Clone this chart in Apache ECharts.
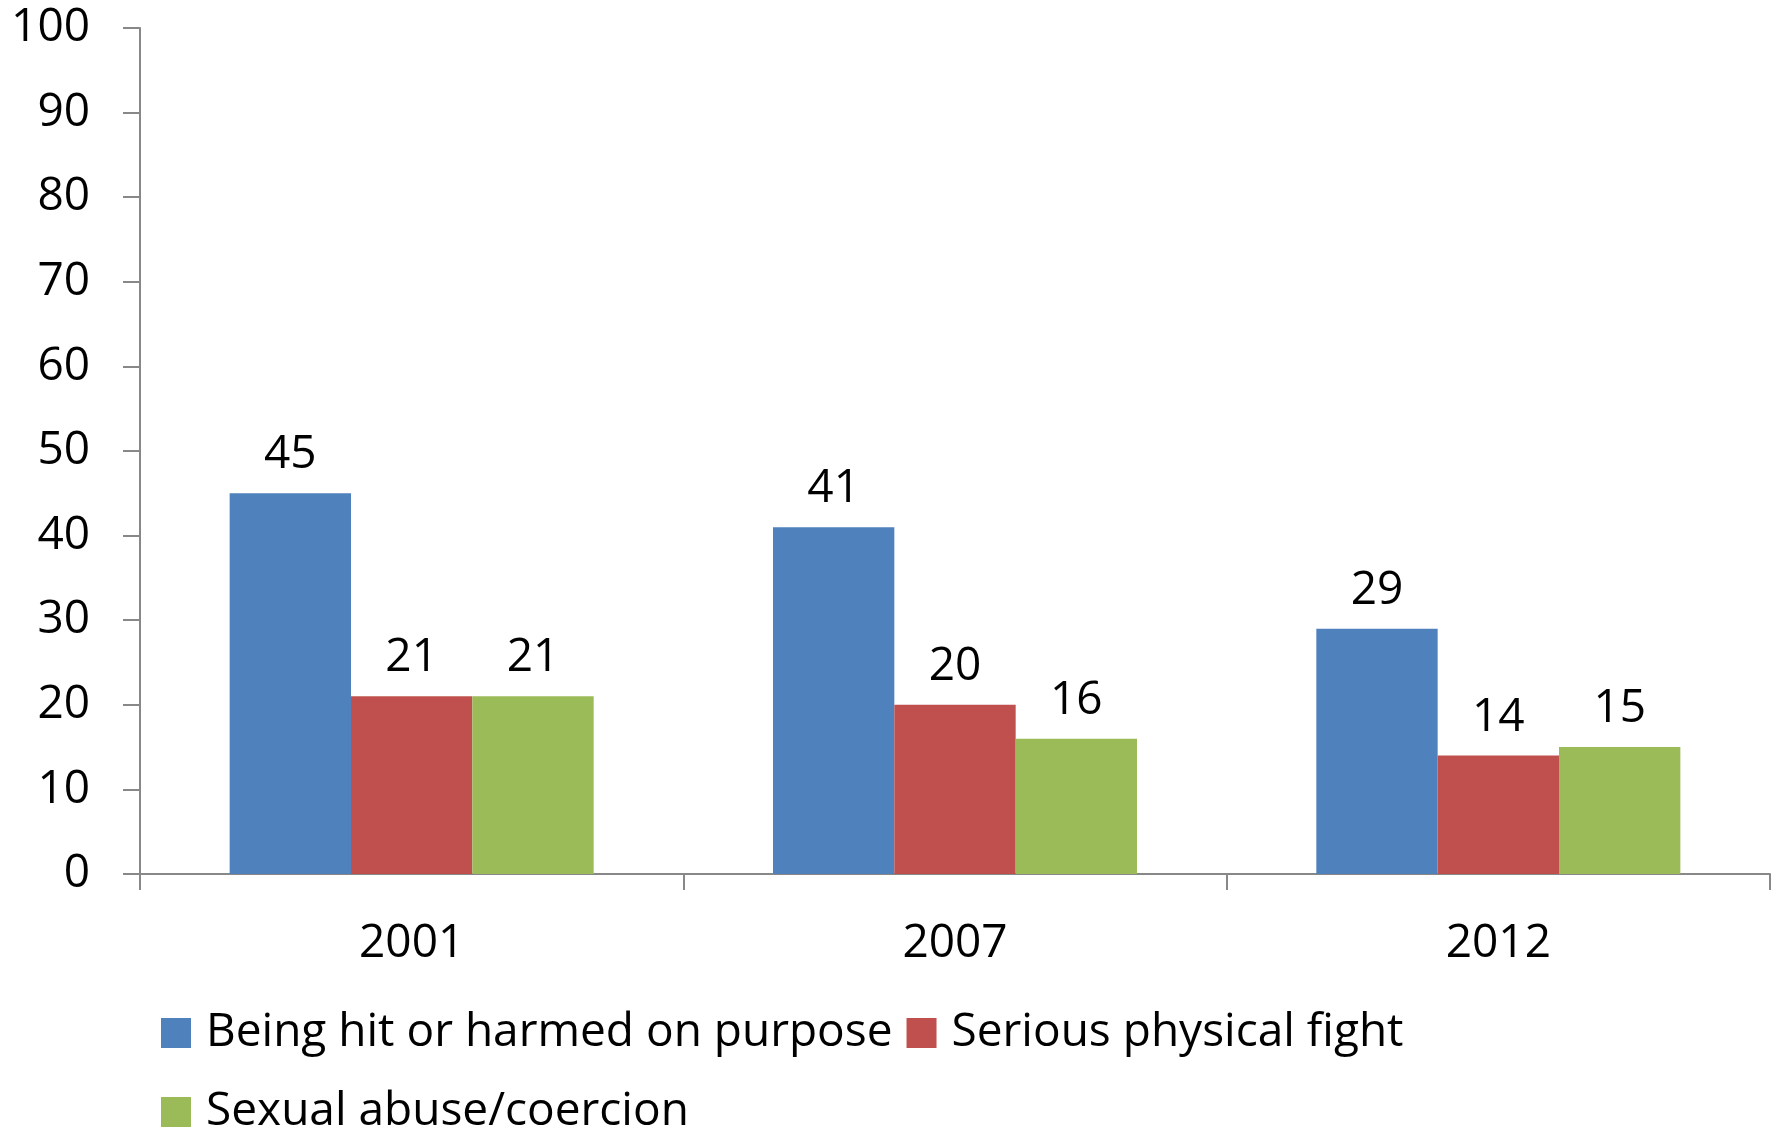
<!DOCTYPE html>
<html>
<head>
<meta charset="utf-8">
<script src="https://cdn.jsdelivr.net/npm/echarts@6/dist/echarts.min.js"></script>
<style>
  html, body { margin: 0; padding: 0; background: #fff; }
  #chart { width: 1778px; height: 1133px; }
</style>
</head>
<body>
<div id="chart"></div>
<script>
  var years = ['2001', '2007', '2012'];
  var hitHarmed = [45, 41, 29];
  var physicalFight = [21, 20, 14];
  var sexualAbuse = [21, 16, 15];
  var seriesNames = ['Being hit or harmed on purpose', 'Serious physical fight', 'Sexual abuse/coercion'];

  var chart = echarts.init(document.getElementById('chart'));
  var font = 'Open Sans';

  var labelStyle = {
    show: true,
    position: 'top',
    distance: 15,
    color: '#000',
    fontFamily: font,
    fontSize: 46
  };

  var legendText = { fontFamily: font, fontSize: 46, color: '#000', padding: [0, 0, 0, 10] };

  function barSeries(name, data, color) {
    return {
      name: name,
      type: 'bar',
      data: data,
      barGap: '0%',
      barCategoryGap: '33%',
      itemStyle: { color: color },
      label: labelStyle
    };
  }

  chart.setOption({
    animation: false,
    grid: { left: 140, right: 8, top: 28, bottom: 259 },
    legend: [{
      data: [seriesNames[0], seriesNames[1]],
      left: 156,
      top: 1005,
      itemWidth: 30,
      itemHeight: 30,
      itemGap: 14,
      icon: 'rect',
      textStyle: legendText
    }, {
      data: [seriesNames[2]],
      left: 156,
      top: 1084,
      itemWidth: 30,
      itemHeight: 30,
      icon: 'rect',
      textStyle: legendText
    }],
    xAxis: {
      type: 'category',
      data: years,
      axisLine: { lineStyle: { color: '#888', width: 2 } },
      axisTick: { show: true, length: 16, lineStyle: { color: '#888', width: 2 } },
      axisLabel: { margin: 47, color: '#000', fontFamily: font, fontSize: 46 }
    },
    yAxis: {
      type: 'value',
      min: 0,
      max: 100,
      interval: 10,
      splitLine: { show: false },
      axisLine: { show: true, lineStyle: { color: '#888', width: 2 } },
      axisTick: { show: true, length: 17, lineStyle: { color: '#888', width: 2 } },
      axisLabel: { margin: 50, color: '#000', fontFamily: font, fontSize: 46 }
    },
    series: [
      barSeries(seriesNames[0], hitHarmed, '#4F81BD'),
      barSeries(seriesNames[1], physicalFight, '#C0504D'),
      barSeries(seriesNames[2], sexualAbuse, '#9BBB59')
    ]
  });
</script>
</body>
</html>
